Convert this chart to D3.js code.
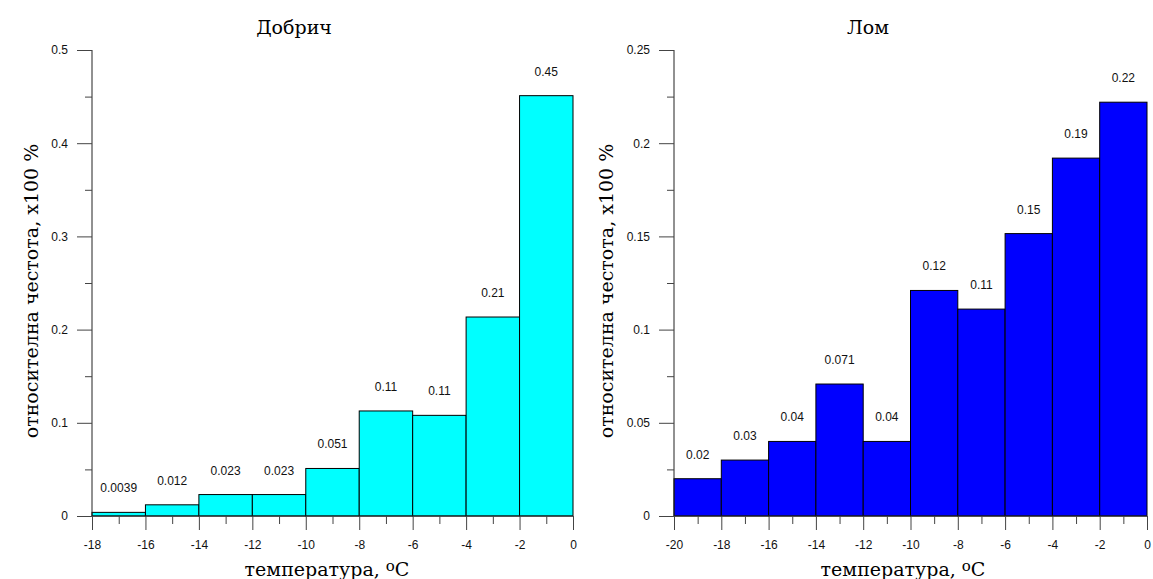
<!DOCTYPE html>
<html><head><meta charset="utf-8">
<script src="https://cdn.jsdelivr.net/npm/d3@7"></script>
<style>body{margin:0;background:#fff}</style></head>
<body><svg id="c" width="1153" height="579"></svg>
<script>
// ---- data ----
const dobrichBinStarts = [-18,-16,-14,-12,-10,-8,-6,-4,-2];
const dobrichValues = [0.0039,0.012,0.023,0.023,0.051,0.1127,0.108,0.2135,0.451];
const dobrichLabels = ["0.0039","0.012","0.023","0.023","0.051","0.11","0.11","0.21","0.45"];
const lomBinStarts = [-20,-18,-16,-14,-12,-10,-8,-6,-4,-2];
const lomValues = [0.02,0.03,0.04,0.0708,0.04,0.121,0.111,0.1515,0.192,0.222];
const lomLabels = ["0.02","0.03","0.04","0.071","0.04","0.12","0.11","0.15","0.19","0.22"];
const dobrichYTicks = [0,0.1,0.2,0.3,0.4,0.5];
const lomYTicks = [0,0.05,0.1,0.15,0.2,0.25];
const dobrichXTicks = [-18,-16,-14,-12,-10,-8,-6,-4,-2,0];
const lomXTicks = [-20,-18,-16,-14,-12,-10,-8,-6,-4,-2,0];
const titles = ["Добрич","Лом"];
const yTitle = "относителна  честота,  x100 %";
const xTitle = "температура, ";

const svg = d3.select("#c");
const SERIF = "DejaVu Serif, serif";
const SANS = "Liberation Sans, Arial, sans-serif";

function panel(cfg){
  const g = svg.append("g");
  const x = d3.scaleLinear().domain(cfg.xDomain).range([cfg.left,cfg.right]);
  const y = d3.scaleLinear().domain(cfg.yDomain).range([cfg.bottom,cfg.top]);
  const bw = 2;
  g.selectAll("rect.bar").data(cfg.starts).enter().append("rect")
    .attr("x", d=>x(d)).attr("width", d=>x(d+bw)-x(d))
    .attr("y", (d,i)=>y(cfg.values[i])).attr("height",(d,i)=>y(0)-y(cfg.values[i]))
    .attr("fill", cfg.color).attr("stroke","#000").attr("stroke-width",1);
  g.selectAll("text.lab").data(cfg.starts).enter().append("text")
    .attr("x", d=>x(d+bw/2)).attr("y",(d,i)=>y(cfg.values[i])-20)
    .attr("text-anchor","middle").attr("font-family",SANS)
    .attr("font-size",12).attr("fill","#111").text((d,i)=>cfg.labels[i]);
  const ya = d3.axisLeft(y).tickValues(cfg.yTicks).tickSize(15).tickPadding(9)
    .tickFormat(d=>d3.format("~g")(d));
  const yg = g.append("g").attr("transform",`translate(${cfg.left},0)`).call(ya);
  const minorY = cfg.yTicks.slice(0,-1).map((d,i)=>(d+cfg.yTicks[i+1])/2);
  g.append("g").attr("transform",`translate(${cfg.left},0)`)
    .call(d3.axisLeft(y).tickValues(minorY).tickSize(7).tickFormat(""))
    .select(".domain").remove();
  const xa = d3.axisBottom(x).tickValues(cfg.xTicks).tickSize(14).tickPadding(10)
    .tickFormat(d=>d3.format("d")(d).replace("−","-"));
  const xg = g.append("g").attr("transform",`translate(0,${cfg.bottom})`).call(xa);
  const minorX = cfg.xTicks.slice(0,-1).map((d,i)=>(d+cfg.xTicks[i+1])/2);
  g.append("g").attr("transform",`translate(0,${cfg.bottom})`)
    .call(d3.axisBottom(x).tickValues(minorX).tickSize(8).tickFormat(""))
    .select(".domain").remove();
  yg.select(".domain").attr("d",`M0,${cfg.bottom}V${cfg.top}`).attr("stroke","#222");
  xg.select(".domain").attr("d",`M${cfg.left},0H${cfg.right}`).attr("stroke","#222");
  g.selectAll(".tick line").attr("stroke","#444");
  g.selectAll(".tick text").attr("font-family",SANS).attr("font-size",12).attr("fill","#111");
  g.append("text").attr("x",cfg.titleX).attr("y",34).attr("text-anchor","middle")
    .attr("font-family",SERIF).attr("font-size",19).text(cfg.title);
  const xt = g.append("text").attr("x",cfg.xTitleX).attr("y",576).attr("text-anchor","middle")
    .attr("font-family",SERIF).attr("font-size",19);
  xt.append("tspan").text(xTitle);
  xt.append("tspan").attr("font-size",15).attr("dy",-5).text("o");
  xt.append("tspan").attr("dy",5).text("C");
  g.append("text").attr("transform",`translate(${cfg.yTitleX},${(cfg.top+cfg.bottom)/2+8}) rotate(-90)`)
    .attr("text-anchor","middle").attr("font-family",SERIF)
    .attr("font-size",19).text(yTitle);
}

panel({left:92,right:573,top:50,bottom:516,xDomain:[-18,0],yDomain:[0,0.5],
  starts:dobrichBinStarts,values:dobrichValues,labels:dobrichLabels,color:"#00ffff",
  yTicks:dobrichYTicks,xTicks:dobrichXTicks,title:titles[0],titleX:294,xTitleX:327,yTitleX:38});
panel({left:674,right:1147,top:50,bottom:516,xDomain:[-20,0],yDomain:[0,0.25],
  starts:lomBinStarts,values:lomValues,labels:lomLabels,color:"#0000ff",
  yTicks:lomYTicks,xTicks:lomXTicks,title:titles[1],titleX:868,xTitleX:903,yTitleX:613});
</script></body></html>
